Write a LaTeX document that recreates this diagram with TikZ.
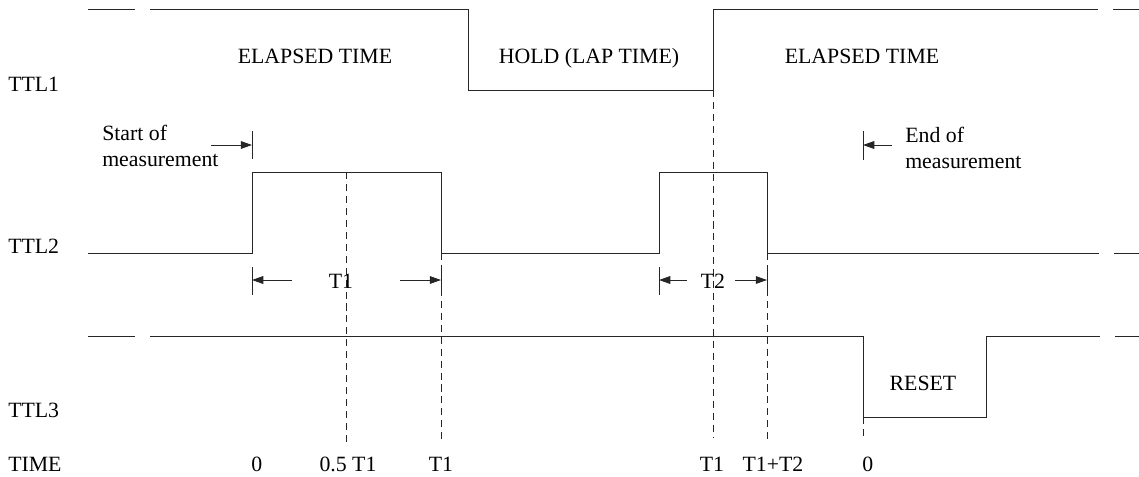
\documentclass[tikz,border=0pt]{standalone}
\usepackage{fontspec}
\setmainfont{Liberation Serif}
\usetikzlibrary{arrows.meta}

\begin{document}
\begin{tikzpicture}[
  x=0.025cm, y=-0.025cm,
  wave/.style={line width=0.6pt, black!85},
  guide/.style={line width=0.6pt, black!85, dash pattern=on 5pt off 3.5pt},
  tickmark/.style={line width=0.6pt, black!85},
  dimarrow/.style={line width=0.6pt, black!85, -{Triangle[length=8pt,width=5.5pt]}},
  lbl/.style={font=\fontsize{15.5}{18.5}\selectfont, inner sep=0pt},
  note/.style={lbl, align=left, anchor=west}
]
  \useasboundingbox (0,0) rectangle (1139,476);

  % Signal names
  \node[lbl, anchor=base west] (ttl1) at (8,91) {TTL1};
  \node[lbl, anchor=base west] (ttl2) at (8,253) {TTL2};
  \node[lbl, anchor=base west] (ttl3) at (8,417) {TTL3};
  \node[lbl, anchor=base west] (time) at (8,471) {TIME};

  % TTL1 waveform
  \draw[wave] (88,9) -- (135,9);
  \draw[wave] (150,9) -- (468,9) -- (468,90) -- (713,90) -- (713,9) -- (1098,9);
  \draw[wave] (1113,9) -- (1139,9);
  \node[lbl, anchor=base] (el1) at (315,63) {ELAPSED TIME};
  \node[lbl, anchor=base] (hold) at (589,63) {HOLD (LAP TIME)};
  \node[lbl, anchor=base] (el2) at (862,63) {ELAPSED TIME};

  % TTL2 waveform
  \draw[wave] (88,253) -- (252,253) -- (252,172) -- (441,172) -- (441,253)
    -- (659,253) -- (659,172) -- (767,172) -- (767,253) -- (1099,253);
  \draw[wave] (1114,253) -- (1139,253);

  % TTL3 waveform
  \draw[wave] (88,336) -- (135,336);
  \draw[wave] (150,336) -- (863,336) -- (863,417) -- (986,417) -- (986,336) -- (1100,336);
  \draw[wave] (1115,336) -- (1139,336);
  \node[lbl, anchor=base] (reset) at (923,390) {RESET};

  % Time markers
  \draw[guide] (346,172) -- (346,442);
  \draw[guide] (441,253) -- (441,442);
  \draw[guide] (713,90) -- (713,437);
  \draw[guide] (767,253) -- (767,443);
  \draw[guide] (863,417) -- (863,440);
  \node[lbl, anchor=base west] (tzero) at (251,471) {0};
  \node[lbl, anchor=base] (thalf) at (348,471) {0.5 T1};
  \node[lbl, anchor=base] (tone) at (441,471) {T1};
  \node[lbl, anchor=base] (tonb) at (712,471) {T1};
  \node[lbl, anchor=base] (tsum) at (773,471) {T1+T2};
  \node[lbl, anchor=base west] (tend) at (862,471) {0};

  % Start / end of measurement
  \node[note] (start) at (102,146) {Start of\\measurement};
  \node[note] (stop) at (905,148) {End of\\measurement};
  \coordinate (sa) at (211,145);
  \coordinate (sb) at (252,145);
  \coordinate (ea) at (892,145);
  \coordinate (eb) at (863,145);
  \draw[tickmark] (252,131) -- (252,159);
  \draw[tickmark] (863,131) -- (863,160);
  \draw[dimarrow] (sa) -- (sb);
  \draw[dimarrow] (ea) -- (eb);

  % Pulse widths
  \node[lbl, anchor=base] (wone) at (341,288) {T1};
  \node[lbl, anchor=base] (wtwo) at (713,288) {T2};
  \foreach \x in {252,441,659,767} {
    \draw[tickmark] (\x,267) -- (\x,295);
  }
  \coordinate (w1a) at (292,280);
  \coordinate (w1b) at (400,280);
  \coordinate (w2a) at (687,280);
  \coordinate (w2b) at (735,280);
  \draw[dimarrow] (w1a) -- (252,280);
  \draw[dimarrow] (w1b) -- (441,280);
  \draw[dimarrow] (w2a) -- (659,280);
  \draw[dimarrow] (w2b) -- (767,280);
\end{tikzpicture}
\end{document}
